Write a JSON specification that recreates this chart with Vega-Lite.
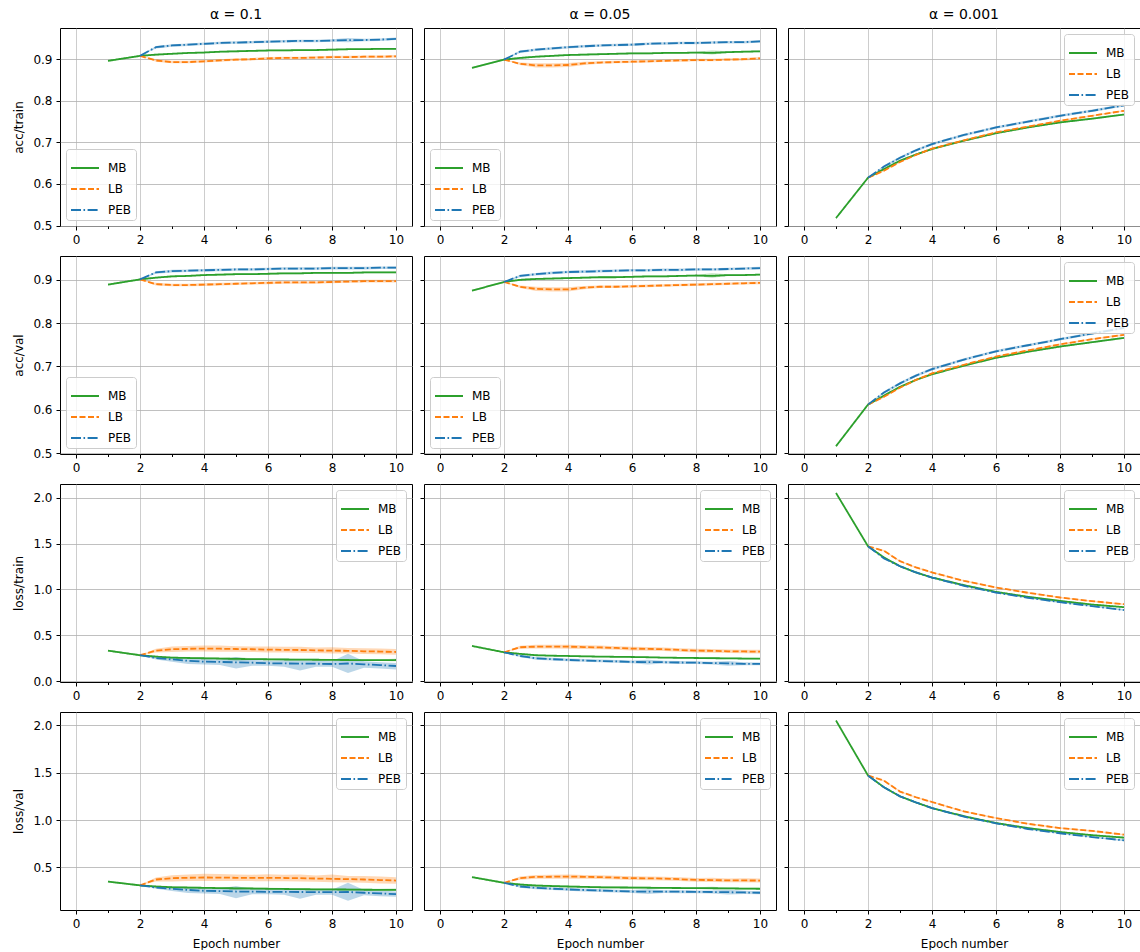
{
"$schema": "https://vega.github.io/schema/vega-lite/v6.json",
"padding": {"left": 12, "top": 7, "right": 0, "bottom": 0},
"background": "white",
"columns": 3,
"spacing": {"row": 30, "column": 12},
"bounds": "flush",
"resolve": {"legend": {"stroke": "independent", "strokeDash": "independent"}},
"config": {
 "font": "DejaVu Sans",
 "view": {"stroke": "#000000", "strokeWidth": 1},
 "axis": {"domain": false, "tickColor": "#000000", "tickSize": 4, "tickWidth": 1, "labelFontSize": 12, "labelColor": "#000000", "labelPadding": 4, "titleFontSize": 12, "titleFontWeight": "normal", "titleColor": "#000000", "gridColor": "#b0b0b0", "gridOpacity": 0.8, "gridWidth": 1, "titlePadding": 7},
 "legend": {"labelFontSize": 12, "labelColor": "#000000", "labelFont": "DejaVu Sans", "symbolType": "stroke", "symbolSize": 784, "symbolStrokeWidth": 1.8, "fillColor": "rgba(255,255,255,0.8)", "strokeColor": "#cccccc", "cornerRadius": 3, "padding": 4, "rowPadding": -8, "labelOffset": 8, "offset": 6},
 "title": {"fontSize": 14, "fontWeight": "normal", "offset": 6, "color": "#000000"}
},
"datasets": {
"at1": [
{"k":"MB","x":1,"y":0.896,"l":0.894,"h":0.898},{"k":"MB","x":2,"y":0.908,"l":0.906,"h":0.910},{"k":"MB","x":2.5,"y":0.911,"l":0.909,"h":0.913},{"k":"MB","x":3,"y":0.913,"l":0.911,"h":0.915},{"k":"MB","x":3.5,"y":0.915,"l":0.913,"h":0.917},{"k":"MB","x":4,"y":0.916,"l":0.914,"h":0.918},{"k":"MB","x":4.5,"y":0.918,"l":0.916,"h":0.920},{"k":"MB","x":5,"y":0.919,"l":0.917,"h":0.921},{"k":"MB","x":5.5,"y":0.920,"l":0.918,"h":0.922},{"k":"MB","x":6,"y":0.921,"l":0.919,"h":0.923},{"k":"MB","x":6.5,"y":0.921,"l":0.919,"h":0.923},{"k":"MB","x":7,"y":0.922,"l":0.920,"h":0.924},{"k":"MB","x":7.5,"y":0.922,"l":0.920,"h":0.924},{"k":"MB","x":8,"y":0.923,"l":0.921,"h":0.925},{"k":"MB","x":8.5,"y":0.924,"l":0.922,"h":0.926},{"k":"MB","x":9,"y":0.924,"l":0.922,"h":0.926},{"k":"MB","x":9.5,"y":0.925,"l":0.923,"h":0.927},{"k":"MB","x":10,"y":0.925,"l":0.923,"h":0.927},
{"k":"LB","x":2,"y":0.908,"l":0.908,"h":0.908},{"k":"LB","x":2.5,"y":0.897,"l":0.894,"h":0.900},{"k":"LB","x":3,"y":0.893,"l":0.890,"h":0.896},{"k":"LB","x":3.5,"y":0.893,"l":0.890,"h":0.896},{"k":"LB","x":4,"y":0.895,"l":0.892,"h":0.898},{"k":"LB","x":4.5,"y":0.897,"l":0.894,"h":0.900},{"k":"LB","x":5,"y":0.899,"l":0.896,"h":0.902},{"k":"LB","x":5.5,"y":0.900,"l":0.897,"h":0.903},{"k":"LB","x":6,"y":0.902,"l":0.899,"h":0.905},{"k":"LB","x":6.5,"y":0.903,"l":0.900,"h":0.906},{"k":"LB","x":7,"y":0.903,"l":0.900,"h":0.906},{"k":"LB","x":7.5,"y":0.904,"l":0.901,"h":0.907},{"k":"LB","x":8,"y":0.905,"l":0.902,"h":0.908},{"k":"LB","x":8.5,"y":0.905,"l":0.902,"h":0.908},{"k":"LB","x":9,"y":0.906,"l":0.903,"h":0.909},{"k":"LB","x":9.5,"y":0.906,"l":0.903,"h":0.909},{"k":"LB","x":10,"y":0.907,"l":0.904,"h":0.910},
{"k":"PEB","x":2,"y":0.908,"l":0.908,"h":0.908},{"k":"PEB","x":2.5,"y":0.929,"l":0.926,"h":0.932},{"k":"PEB","x":3,"y":0.933,"l":0.930,"h":0.936},{"k":"PEB","x":3.5,"y":0.935,"l":0.932,"h":0.938},{"k":"PEB","x":4,"y":0.937,"l":0.934,"h":0.940},{"k":"PEB","x":4.5,"y":0.939,"l":0.936,"h":0.942},{"k":"PEB","x":5,"y":0.940,"l":0.937,"h":0.943},{"k":"PEB","x":5.5,"y":0.941,"l":0.938,"h":0.944},{"k":"PEB","x":6,"y":0.942,"l":0.939,"h":0.945},{"k":"PEB","x":6.5,"y":0.943,"l":0.940,"h":0.946},{"k":"PEB","x":7,"y":0.944,"l":0.941,"h":0.947},{"k":"PEB","x":7.5,"y":0.944,"l":0.941,"h":0.947},{"k":"PEB","x":8,"y":0.945,"l":0.942,"h":0.948},{"k":"PEB","x":8.5,"y":0.946,"l":0.941,"h":0.951},{"k":"PEB","x":9,"y":0.946,"l":0.943,"h":0.949},{"k":"PEB","x":9.5,"y":0.947,"l":0.944,"h":0.950},{"k":"PEB","x":10,"y":0.949,"l":0.946,"h":0.952}
],
"at05": [
{"k":"MB","x":1,"y":0.879,"l":0.877,"h":0.881},{"k":"MB","x":2,"y":0.899,"l":0.897,"h":0.901},{"k":"MB","x":2.5,"y":0.903,"l":0.901,"h":0.905},{"k":"MB","x":3,"y":0.906,"l":0.904,"h":0.908},{"k":"MB","x":3.5,"y":0.908,"l":0.906,"h":0.910},{"k":"MB","x":4,"y":0.910,"l":0.908,"h":0.912},{"k":"MB","x":4.5,"y":0.911,"l":0.909,"h":0.913},{"k":"MB","x":5,"y":0.912,"l":0.910,"h":0.914},{"k":"MB","x":5.5,"y":0.913,"l":0.911,"h":0.915},{"k":"MB","x":6,"y":0.914,"l":0.912,"h":0.916},{"k":"MB","x":6.5,"y":0.914,"l":0.912,"h":0.916},{"k":"MB","x":7,"y":0.915,"l":0.913,"h":0.917},{"k":"MB","x":7.5,"y":0.915,"l":0.913,"h":0.917},{"k":"MB","x":8,"y":0.916,"l":0.914,"h":0.918},{"k":"MB","x":8.5,"y":0.915,"l":0.911,"h":0.921},{"k":"MB","x":9,"y":0.917,"l":0.915,"h":0.919},{"k":"MB","x":9.5,"y":0.918,"l":0.916,"h":0.920},{"k":"MB","x":10,"y":0.919,"l":0.917,"h":0.921},
{"k":"LB","x":2,"y":0.899,"l":0.899,"h":0.899},{"k":"LB","x":2.5,"y":0.889,"l":0.886,"h":0.892},{"k":"LB","x":3,"y":0.885,"l":0.880,"h":0.890},{"k":"LB","x":3.5,"y":0.885,"l":0.880,"h":0.890},{"k":"LB","x":4,"y":0.886,"l":0.881,"h":0.891},{"k":"LB","x":4.5,"y":0.890,"l":0.886,"h":0.894},{"k":"LB","x":5,"y":0.892,"l":0.889,"h":0.895},{"k":"LB","x":5.5,"y":0.893,"l":0.890,"h":0.896},{"k":"LB","x":6,"y":0.894,"l":0.891,"h":0.897},{"k":"LB","x":6.5,"y":0.895,"l":0.892,"h":0.898},{"k":"LB","x":7,"y":0.896,"l":0.893,"h":0.899},{"k":"LB","x":7.5,"y":0.897,"l":0.894,"h":0.900},{"k":"LB","x":8,"y":0.898,"l":0.895,"h":0.901},{"k":"LB","x":8.5,"y":0.898,"l":0.895,"h":0.901},{"k":"LB","x":9,"y":0.899,"l":0.896,"h":0.902},{"k":"LB","x":9.5,"y":0.900,"l":0.897,"h":0.903},{"k":"LB","x":10,"y":0.902,"l":0.899,"h":0.905},
{"k":"PEB","x":2,"y":0.899,"l":0.899,"h":0.899},{"k":"PEB","x":2.5,"y":0.918,"l":0.915,"h":0.921},{"k":"PEB","x":3,"y":0.923,"l":0.920,"h":0.926},{"k":"PEB","x":3.5,"y":0.926,"l":0.923,"h":0.929},{"k":"PEB","x":4,"y":0.929,"l":0.926,"h":0.932},{"k":"PEB","x":4.5,"y":0.931,"l":0.928,"h":0.934},{"k":"PEB","x":5,"y":0.933,"l":0.930,"h":0.936},{"k":"PEB","x":5.5,"y":0.934,"l":0.931,"h":0.937},{"k":"PEB","x":6,"y":0.935,"l":0.932,"h":0.938},{"k":"PEB","x":6.5,"y":0.937,"l":0.934,"h":0.940},{"k":"PEB","x":7,"y":0.938,"l":0.935,"h":0.941},{"k":"PEB","x":7.5,"y":0.939,"l":0.936,"h":0.942},{"k":"PEB","x":8,"y":0.939,"l":0.936,"h":0.942},{"k":"PEB","x":8.5,"y":0.940,"l":0.937,"h":0.943},{"k":"PEB","x":9,"y":0.941,"l":0.938,"h":0.944},{"k":"PEB","x":9.5,"y":0.941,"l":0.938,"h":0.944},{"k":"PEB","x":10,"y":0.943,"l":0.940,"h":0.946}
],
"at001": [
{"k":"MB","x":1,"y":0.518,"l":0.516,"h":0.520},{"k":"MB","x":2,"y":0.615,"l":0.613,"h":0.617},{"k":"MB","x":2.5,"y":0.636,"l":0.634,"h":0.638},{"k":"MB","x":3,"y":0.656,"l":0.654,"h":0.658},{"k":"MB","x":3.5,"y":0.671,"l":0.669,"h":0.673},{"k":"MB","x":4,"y":0.684,"l":0.682,"h":0.686},{"k":"MB","x":5,"y":0.704,"l":0.702,"h":0.706},{"k":"MB","x":6,"y":0.722,"l":0.720,"h":0.724},{"k":"MB","x":7,"y":0.736,"l":0.734,"h":0.738},{"k":"MB","x":8,"y":0.748,"l":0.746,"h":0.750},{"k":"MB","x":9,"y":0.757,"l":0.755,"h":0.759},{"k":"MB","x":10,"y":0.767,"l":0.765,"h":0.769},
{"k":"LB","x":2,"y":0.615,"l":0.615,"h":0.615},{"k":"LB","x":2.5,"y":0.632,"l":0.630,"h":0.634},{"k":"LB","x":3,"y":0.653,"l":0.651,"h":0.655},{"k":"LB","x":3.5,"y":0.670,"l":0.668,"h":0.672},{"k":"LB","x":4,"y":0.685,"l":0.683,"h":0.687},{"k":"LB","x":5,"y":0.705,"l":0.703,"h":0.707},{"k":"LB","x":6,"y":0.724,"l":0.722,"h":0.726},{"k":"LB","x":7,"y":0.738,"l":0.736,"h":0.740},{"k":"LB","x":8,"y":0.752,"l":0.750,"h":0.754},{"k":"LB","x":9,"y":0.764,"l":0.762,"h":0.766},{"k":"LB","x":10,"y":0.776,"l":0.774,"h":0.778},
{"k":"PEB","x":2,"y":0.615,"l":0.615,"h":0.615},{"k":"PEB","x":2.5,"y":0.642,"l":0.639,"h":0.645},{"k":"PEB","x":3,"y":0.663,"l":0.660,"h":0.666},{"k":"PEB","x":3.5,"y":0.681,"l":0.678,"h":0.684},{"k":"PEB","x":4,"y":0.696,"l":0.693,"h":0.699},{"k":"PEB","x":5,"y":0.718,"l":0.715,"h":0.721},{"k":"PEB","x":6,"y":0.736,"l":0.733,"h":0.739},{"k":"PEB","x":7,"y":0.750,"l":0.747,"h":0.753},{"k":"PEB","x":8,"y":0.764,"l":0.761,"h":0.767},{"k":"PEB","x":9,"y":0.776,"l":0.773,"h":0.779},{"k":"PEB","x":10,"y":0.789,"l":0.786,"h":0.792}
],
"av1": [
{"k":"MB","x":1,"y":0.889,"l":0.887,"h":0.891},{"k":"MB","x":2,"y":0.901,"l":0.899,"h":0.903},{"k":"MB","x":2.5,"y":0.905,"l":0.903,"h":0.907},{"k":"MB","x":3,"y":0.908,"l":0.906,"h":0.910},{"k":"MB","x":3.5,"y":0.909,"l":0.907,"h":0.911},{"k":"MB","x":4,"y":0.911,"l":0.909,"h":0.913},{"k":"MB","x":4.5,"y":0.912,"l":0.910,"h":0.914},{"k":"MB","x":5,"y":0.913,"l":0.911,"h":0.915},{"k":"MB","x":5.5,"y":0.913,"l":0.911,"h":0.915},{"k":"MB","x":6,"y":0.914,"l":0.912,"h":0.916},{"k":"MB","x":6.5,"y":0.915,"l":0.913,"h":0.917},{"k":"MB","x":7,"y":0.915,"l":0.913,"h":0.917},{"k":"MB","x":7.5,"y":0.916,"l":0.914,"h":0.918},{"k":"MB","x":8,"y":0.916,"l":0.914,"h":0.918},{"k":"MB","x":8.5,"y":0.916,"l":0.914,"h":0.918},{"k":"MB","x":9,"y":0.917,"l":0.915,"h":0.919},{"k":"MB","x":9.5,"y":0.917,"l":0.915,"h":0.919},{"k":"MB","x":10,"y":0.917,"l":0.915,"h":0.919},
{"k":"LB","x":2,"y":0.901,"l":0.901,"h":0.901},{"k":"LB","x":2.5,"y":0.890,"l":0.887,"h":0.893},{"k":"LB","x":3,"y":0.888,"l":0.885,"h":0.891},{"k":"LB","x":3.5,"y":0.888,"l":0.885,"h":0.891},{"k":"LB","x":4,"y":0.889,"l":0.886,"h":0.892},{"k":"LB","x":4.5,"y":0.890,"l":0.887,"h":0.893},{"k":"LB","x":5,"y":0.891,"l":0.888,"h":0.894},{"k":"LB","x":5.5,"y":0.892,"l":0.889,"h":0.895},{"k":"LB","x":6,"y":0.893,"l":0.890,"h":0.896},{"k":"LB","x":6.5,"y":0.894,"l":0.891,"h":0.897},{"k":"LB","x":7,"y":0.894,"l":0.891,"h":0.897},{"k":"LB","x":7.5,"y":0.894,"l":0.891,"h":0.897},{"k":"LB","x":8,"y":0.895,"l":0.892,"h":0.898},{"k":"LB","x":8.5,"y":0.896,"l":0.893,"h":0.899},{"k":"LB","x":9,"y":0.897,"l":0.894,"h":0.900},{"k":"LB","x":9.5,"y":0.897,"l":0.894,"h":0.900},{"k":"LB","x":10,"y":0.897,"l":0.894,"h":0.900},
{"k":"PEB","x":2,"y":0.901,"l":0.901,"h":0.901},{"k":"PEB","x":2.5,"y":0.917,"l":0.914,"h":0.920},{"k":"PEB","x":3,"y":0.920,"l":0.917,"h":0.923},{"k":"PEB","x":3.5,"y":0.921,"l":0.918,"h":0.924},{"k":"PEB","x":4,"y":0.922,"l":0.919,"h":0.925},{"k":"PEB","x":4.5,"y":0.923,"l":0.920,"h":0.926},{"k":"PEB","x":5,"y":0.924,"l":0.921,"h":0.927},{"k":"PEB","x":5.5,"y":0.924,"l":0.921,"h":0.927},{"k":"PEB","x":6,"y":0.925,"l":0.922,"h":0.928},{"k":"PEB","x":6.5,"y":0.926,"l":0.923,"h":0.929},{"k":"PEB","x":7,"y":0.926,"l":0.923,"h":0.929},{"k":"PEB","x":7.5,"y":0.926,"l":0.923,"h":0.929},{"k":"PEB","x":8,"y":0.927,"l":0.924,"h":0.930},{"k":"PEB","x":8.5,"y":0.927,"l":0.924,"h":0.930},{"k":"PEB","x":9,"y":0.927,"l":0.924,"h":0.930},{"k":"PEB","x":9.5,"y":0.928,"l":0.925,"h":0.931},{"k":"PEB","x":10,"y":0.928,"l":0.925,"h":0.931}
],
"av05": [
{"k":"MB","x":1,"y":0.875,"l":0.873,"h":0.877},{"k":"MB","x":2,"y":0.895,"l":0.893,"h":0.897},{"k":"MB","x":2.5,"y":0.900,"l":0.898,"h":0.902},{"k":"MB","x":3,"y":0.902,"l":0.900,"h":0.904},{"k":"MB","x":3.5,"y":0.903,"l":0.901,"h":0.905},{"k":"MB","x":4,"y":0.904,"l":0.902,"h":0.906},{"k":"MB","x":4.5,"y":0.905,"l":0.903,"h":0.907},{"k":"MB","x":5,"y":0.906,"l":0.904,"h":0.908},{"k":"MB","x":5.5,"y":0.906,"l":0.904,"h":0.908},{"k":"MB","x":6,"y":0.907,"l":0.905,"h":0.909},{"k":"MB","x":6.5,"y":0.908,"l":0.906,"h":0.910},{"k":"MB","x":7,"y":0.908,"l":0.906,"h":0.910},{"k":"MB","x":7.5,"y":0.909,"l":0.907,"h":0.911},{"k":"MB","x":8,"y":0.910,"l":0.908,"h":0.912},{"k":"MB","x":8.5,"y":0.909,"l":0.905,"h":0.915},{"k":"MB","x":9,"y":0.911,"l":0.909,"h":0.913},{"k":"MB","x":9.5,"y":0.911,"l":0.909,"h":0.913},{"k":"MB","x":10,"y":0.912,"l":0.910,"h":0.914},
{"k":"LB","x":2,"y":0.895,"l":0.895,"h":0.895},{"k":"LB","x":2.5,"y":0.884,"l":0.881,"h":0.887},{"k":"LB","x":3,"y":0.879,"l":0.874,"h":0.884},{"k":"LB","x":3.5,"y":0.878,"l":0.873,"h":0.883},{"k":"LB","x":4,"y":0.878,"l":0.873,"h":0.883},{"k":"LB","x":4.5,"y":0.882,"l":0.878,"h":0.886},{"k":"LB","x":5,"y":0.884,"l":0.881,"h":0.887},{"k":"LB","x":5.5,"y":0.884,"l":0.881,"h":0.887},{"k":"LB","x":6,"y":0.885,"l":0.882,"h":0.888},{"k":"LB","x":6.5,"y":0.886,"l":0.883,"h":0.889},{"k":"LB","x":7,"y":0.887,"l":0.884,"h":0.890},{"k":"LB","x":7.5,"y":0.888,"l":0.885,"h":0.891},{"k":"LB","x":8,"y":0.889,"l":0.886,"h":0.892},{"k":"LB","x":8.5,"y":0.890,"l":0.887,"h":0.893},{"k":"LB","x":9,"y":0.891,"l":0.888,"h":0.894},{"k":"LB","x":9.5,"y":0.892,"l":0.889,"h":0.895},{"k":"LB","x":10,"y":0.893,"l":0.890,"h":0.896},
{"k":"PEB","x":2,"y":0.895,"l":0.895,"h":0.895},{"k":"PEB","x":2.5,"y":0.909,"l":0.906,"h":0.912},{"k":"PEB","x":3,"y":0.913,"l":0.910,"h":0.916},{"k":"PEB","x":3.5,"y":0.916,"l":0.913,"h":0.919},{"k":"PEB","x":4,"y":0.918,"l":0.915,"h":0.921},{"k":"PEB","x":4.5,"y":0.919,"l":0.916,"h":0.922},{"k":"PEB","x":5,"y":0.920,"l":0.917,"h":0.923},{"k":"PEB","x":5.5,"y":0.921,"l":0.918,"h":0.924},{"k":"PEB","x":6,"y":0.922,"l":0.919,"h":0.925},{"k":"PEB","x":6.5,"y":0.922,"l":0.919,"h":0.925},{"k":"PEB","x":7,"y":0.923,"l":0.920,"h":0.926},{"k":"PEB","x":7.5,"y":0.923,"l":0.920,"h":0.926},{"k":"PEB","x":8,"y":0.924,"l":0.921,"h":0.927},{"k":"PEB","x":8.5,"y":0.924,"l":0.921,"h":0.927},{"k":"PEB","x":9,"y":0.925,"l":0.922,"h":0.928},{"k":"PEB","x":9.5,"y":0.926,"l":0.923,"h":0.929},{"k":"PEB","x":10,"y":0.927,"l":0.924,"h":0.930}
],
"av001": [
{"k":"MB","x":1,"y":0.516,"l":0.514,"h":0.518},{"k":"MB","x":2,"y":0.612,"l":0.610,"h":0.614},{"k":"MB","x":2.5,"y":0.633,"l":0.631,"h":0.635},{"k":"MB","x":3,"y":0.653,"l":0.651,"h":0.655},{"k":"MB","x":3.5,"y":0.669,"l":0.667,"h":0.671},{"k":"MB","x":4,"y":0.682,"l":0.680,"h":0.684},{"k":"MB","x":5,"y":0.702,"l":0.700,"h":0.704},{"k":"MB","x":6,"y":0.720,"l":0.718,"h":0.722},{"k":"MB","x":7,"y":0.734,"l":0.732,"h":0.736},{"k":"MB","x":8,"y":0.746,"l":0.744,"h":0.748},{"k":"MB","x":9,"y":0.756,"l":0.754,"h":0.758},{"k":"MB","x":10,"y":0.766,"l":0.764,"h":0.768},
{"k":"LB","x":2,"y":0.612,"l":0.612,"h":0.612},{"k":"LB","x":2.5,"y":0.630,"l":0.628,"h":0.632},{"k":"LB","x":3,"y":0.651,"l":0.649,"h":0.653},{"k":"LB","x":3.5,"y":0.669,"l":0.667,"h":0.671},{"k":"LB","x":4,"y":0.684,"l":0.682,"h":0.686},{"k":"LB","x":5,"y":0.704,"l":0.702,"h":0.706},{"k":"LB","x":6,"y":0.723,"l":0.721,"h":0.725},{"k":"LB","x":7,"y":0.737,"l":0.735,"h":0.739},{"k":"LB","x":8,"y":0.751,"l":0.749,"h":0.753},{"k":"LB","x":9,"y":0.763,"l":0.761,"h":0.765},{"k":"LB","x":10,"y":0.773,"l":0.771,"h":0.775},
{"k":"PEB","x":2,"y":0.612,"l":0.612,"h":0.612},{"k":"PEB","x":2.5,"y":0.640,"l":0.637,"h":0.643},{"k":"PEB","x":3,"y":0.661,"l":0.658,"h":0.664},{"k":"PEB","x":3.5,"y":0.679,"l":0.676,"h":0.682},{"k":"PEB","x":4,"y":0.694,"l":0.691,"h":0.697},{"k":"PEB","x":5,"y":0.716,"l":0.713,"h":0.719},{"k":"PEB","x":6,"y":0.735,"l":0.732,"h":0.738},{"k":"PEB","x":7,"y":0.749,"l":0.746,"h":0.752},{"k":"PEB","x":8,"y":0.763,"l":0.760,"h":0.766},{"k":"PEB","x":9,"y":0.776,"l":0.773,"h":0.779},{"k":"PEB","x":10,"y":0.789,"l":0.786,"h":0.792}
],
"lt1": [
{"k":"MB","x":1,"y":0.335,"l":0.325,"h":0.345},{"k":"MB","x":2,"y":0.285,"l":0.275,"h":0.295},{"k":"MB","x":2.5,"y":0.270,"l":0.260,"h":0.280},{"k":"MB","x":3,"y":0.259,"l":0.249,"h":0.269},{"k":"MB","x":3.5,"y":0.255,"l":0.245,"h":0.265},{"k":"MB","x":4,"y":0.252,"l":0.242,"h":0.262},{"k":"MB","x":4.5,"y":0.249,"l":0.239,"h":0.259},{"k":"MB","x":5,"y":0.245,"l":0.225,"h":0.262},{"k":"MB","x":5.5,"y":0.243,"l":0.233,"h":0.253},{"k":"MB","x":6,"y":0.241,"l":0.231,"h":0.251},{"k":"MB","x":6.5,"y":0.239,"l":0.229,"h":0.249},{"k":"MB","x":7,"y":0.237,"l":0.227,"h":0.247},{"k":"MB","x":7.5,"y":0.236,"l":0.226,"h":0.246},{"k":"MB","x":8,"y":0.234,"l":0.224,"h":0.244},{"k":"MB","x":8.5,"y":0.233,"l":0.223,"h":0.243},{"k":"MB","x":9,"y":0.232,"l":0.222,"h":0.242},{"k":"MB","x":9.5,"y":0.232,"l":0.222,"h":0.242},{"k":"MB","x":10,"y":0.233,"l":0.220,"h":0.246},
{"k":"LB","x":2,"y":0.285,"l":0.285,"h":0.285},{"k":"LB","x":2.5,"y":0.335,"l":0.315,"h":0.355},{"k":"LB","x":3,"y":0.350,"l":0.320,"h":0.380},{"k":"LB","x":3.5,"y":0.355,"l":0.325,"h":0.385},{"k":"LB","x":4,"y":0.357,"l":0.325,"h":0.392},{"k":"LB","x":4.5,"y":0.356,"l":0.324,"h":0.390},{"k":"LB","x":5,"y":0.353,"l":0.322,"h":0.384},{"k":"LB","x":5.5,"y":0.350,"l":0.320,"h":0.380},{"k":"LB","x":6,"y":0.346,"l":0.316,"h":0.380},{"k":"LB","x":6.5,"y":0.344,"l":0.314,"h":0.376},{"k":"LB","x":7,"y":0.342,"l":0.312,"h":0.376},{"k":"LB","x":7.5,"y":0.338,"l":0.308,"h":0.368},{"k":"LB","x":8,"y":0.335,"l":0.305,"h":0.372},{"k":"LB","x":8.5,"y":0.333,"l":0.303,"h":0.365},{"k":"LB","x":9,"y":0.328,"l":0.298,"h":0.360},{"k":"LB","x":9.5,"y":0.325,"l":0.295,"h":0.358},{"k":"LB","x":10,"y":0.320,"l":0.290,"h":0.352},
{"k":"PEB","x":2,"y":0.285,"l":0.285,"h":0.285},{"k":"PEB","x":2.5,"y":0.255,"l":0.240,"h":0.270},{"k":"PEB","x":3,"y":0.240,"l":0.215,"h":0.260},{"k":"PEB","x":3.5,"y":0.225,"l":0.190,"h":0.250},{"k":"PEB","x":4,"y":0.215,"l":0.185,"h":0.245},{"k":"PEB","x":4.5,"y":0.212,"l":0.180,"h":0.240},{"k":"PEB","x":5,"y":0.208,"l":0.140,"h":0.265},{"k":"PEB","x":5.5,"y":0.204,"l":0.170,"h":0.235},{"k":"PEB","x":6,"y":0.198,"l":0.170,"h":0.225},{"k":"PEB","x":6.5,"y":0.196,"l":0.160,"h":0.230},{"k":"PEB","x":7,"y":0.194,"l":0.120,"h":0.230},{"k":"PEB","x":7.5,"y":0.193,"l":0.160,"h":0.225},{"k":"PEB","x":8,"y":0.190,"l":0.160,"h":0.220},{"k":"PEB","x":8.5,"y":0.195,"l":0.092,"h":0.300},{"k":"PEB","x":9,"y":0.186,"l":0.150,"h":0.220},{"k":"PEB","x":9.5,"y":0.178,"l":0.140,"h":0.210},{"k":"PEB","x":10,"y":0.168,"l":0.130,"h":0.200}
],
"lt05": [
{"k":"MB","x":1,"y":0.386,"l":0.378,"h":0.394},{"k":"MB","x":2,"y":0.317,"l":0.309,"h":0.325},{"k":"MB","x":2.5,"y":0.300,"l":0.292,"h":0.308},{"k":"MB","x":3,"y":0.285,"l":0.277,"h":0.293},{"k":"MB","x":3.5,"y":0.280,"l":0.272,"h":0.288},{"k":"MB","x":4,"y":0.277,"l":0.269,"h":0.285},{"k":"MB","x":4.5,"y":0.273,"l":0.265,"h":0.281},{"k":"MB","x":5,"y":0.270,"l":0.262,"h":0.278},{"k":"MB","x":5.5,"y":0.268,"l":0.260,"h":0.276},{"k":"MB","x":6,"y":0.266,"l":0.258,"h":0.274},{"k":"MB","x":6.5,"y":0.263,"l":0.255,"h":0.271},{"k":"MB","x":7,"y":0.259,"l":0.251,"h":0.267},{"k":"MB","x":7.5,"y":0.257,"l":0.249,"h":0.265},{"k":"MB","x":8,"y":0.255,"l":0.247,"h":0.263},{"k":"MB","x":8.5,"y":0.253,"l":0.242,"h":0.266},{"k":"MB","x":9,"y":0.251,"l":0.243,"h":0.259},{"k":"MB","x":9.5,"y":0.249,"l":0.241,"h":0.257},{"k":"MB","x":10,"y":0.248,"l":0.240,"h":0.256},
{"k":"LB","x":2,"y":0.317,"l":0.317,"h":0.317},{"k":"LB","x":2.5,"y":0.372,"l":0.355,"h":0.389},{"k":"LB","x":3,"y":0.378,"l":0.358,"h":0.398},{"k":"LB","x":3.5,"y":0.378,"l":0.358,"h":0.398},{"k":"LB","x":4,"y":0.378,"l":0.356,"h":0.400},{"k":"LB","x":4.5,"y":0.374,"l":0.354,"h":0.394},{"k":"LB","x":5,"y":0.370,"l":0.350,"h":0.390},{"k":"LB","x":5.5,"y":0.364,"l":0.344,"h":0.384},{"k":"LB","x":6,"y":0.357,"l":0.337,"h":0.377},{"k":"LB","x":6.5,"y":0.354,"l":0.334,"h":0.374},{"k":"LB","x":7,"y":0.350,"l":0.330,"h":0.370},{"k":"LB","x":7.5,"y":0.342,"l":0.322,"h":0.362},{"k":"LB","x":8,"y":0.335,"l":0.315,"h":0.355},{"k":"LB","x":8.5,"y":0.333,"l":0.313,"h":0.353},{"k":"LB","x":9,"y":0.328,"l":0.308,"h":0.348},{"k":"LB","x":9.5,"y":0.326,"l":0.306,"h":0.346},{"k":"LB","x":10,"y":0.324,"l":0.304,"h":0.344},
{"k":"PEB","x":2,"y":0.317,"l":0.317,"h":0.317},{"k":"PEB","x":2.5,"y":0.277,"l":0.265,"h":0.289},{"k":"PEB","x":3,"y":0.252,"l":0.237,"h":0.267},{"k":"PEB","x":3.5,"y":0.242,"l":0.227,"h":0.257},{"k":"PEB","x":4,"y":0.234,"l":0.219,"h":0.249},{"k":"PEB","x":4.5,"y":0.228,"l":0.213,"h":0.243},{"k":"PEB","x":5,"y":0.223,"l":0.208,"h":0.238},{"k":"PEB","x":5.5,"y":0.218,"l":0.203,"h":0.233},{"k":"PEB","x":6,"y":0.212,"l":0.197,"h":0.227},{"k":"PEB","x":6.5,"y":0.210,"l":0.185,"h":0.235},{"k":"PEB","x":7,"y":0.209,"l":0.194,"h":0.224},{"k":"PEB","x":7.5,"y":0.206,"l":0.191,"h":0.221},{"k":"PEB","x":8,"y":0.204,"l":0.189,"h":0.219},{"k":"PEB","x":8.5,"y":0.200,"l":0.185,"h":0.215},{"k":"PEB","x":9,"y":0.196,"l":0.171,"h":0.221},{"k":"PEB","x":9.5,"y":0.192,"l":0.175,"h":0.209},{"k":"PEB","x":10,"y":0.190,"l":0.175,"h":0.205}
],
"lt001": [
{"k":"MB","x":1,"y":2.05,"l":2.042,"h":2.058},{"k":"MB","x":2,"y":1.47,"l":1.462,"h":1.478},{"k":"MB","x":2.5,"y":1.348,"l":1.340,"h":1.356},{"k":"MB","x":3,"y":1.253,"l":1.245,"h":1.261},{"k":"MB","x":3.5,"y":1.185,"l":1.177,"h":1.193},{"k":"MB","x":4,"y":1.13,"l":1.122,"h":1.138},{"k":"MB","x":5,"y":1.047,"l":1.039,"h":1.055},{"k":"MB","x":6,"y":0.974,"l":0.966,"h":0.982},{"k":"MB","x":7,"y":0.92,"l":0.912,"h":0.928},{"k":"MB","x":8,"y":0.876,"l":0.868,"h":0.884},{"k":"MB","x":9,"y":0.836,"l":0.828,"h":0.844},{"k":"MB","x":10,"y":0.808,"l":0.800,"h":0.816},
{"k":"LB","x":2,"y":1.47,"l":1.47,"h":1.47},{"k":"LB","x":2.5,"y":1.42,"l":1.412,"h":1.428},{"k":"LB","x":3,"y":1.308,"l":1.300,"h":1.316},{"k":"LB","x":3.5,"y":1.24,"l":1.232,"h":1.248},{"k":"LB","x":4,"y":1.185,"l":1.177,"h":1.193},{"k":"LB","x":5,"y":1.094,"l":1.086,"h":1.102},{"k":"LB","x":6,"y":1.022,"l":1.014,"h":1.030},{"k":"LB","x":7,"y":0.964,"l":0.956,"h":0.972},{"k":"LB","x":8,"y":0.913,"l":0.905,"h":0.921},{"k":"LB","x":9,"y":0.873,"l":0.865,"h":0.881},{"k":"LB","x":10,"y":0.84,"l":0.832,"h":0.848},
{"k":"PEB","x":2,"y":1.47,"l":1.47,"h":1.47},{"k":"PEB","x":2.5,"y":1.337,"l":1.329,"h":1.345},{"k":"PEB","x":3,"y":1.253,"l":1.245,"h":1.261},{"k":"PEB","x":3.5,"y":1.185,"l":1.177,"h":1.193},{"k":"PEB","x":4,"y":1.13,"l":1.122,"h":1.138},{"k":"PEB","x":5,"y":1.04,"l":1.032,"h":1.048},{"k":"PEB","x":6,"y":0.967,"l":0.959,"h":0.975},{"k":"PEB","x":7,"y":0.91,"l":0.902,"h":0.918},{"k":"PEB","x":8,"y":0.862,"l":0.854,"h":0.870},{"k":"PEB","x":9,"y":0.82,"l":0.812,"h":0.828},{"k":"PEB","x":10,"y":0.776,"l":0.768,"h":0.784}
],
"lv1": [
{"k":"MB","x":1,"y":0.350,"l":0.340,"h":0.360},{"k":"MB","x":2,"y":0.310,"l":0.300,"h":0.320},{"k":"MB","x":2.5,"y":0.298,"l":0.288,"h":0.308},{"k":"MB","x":3,"y":0.290,"l":0.280,"h":0.300},{"k":"MB","x":3.5,"y":0.287,"l":0.277,"h":0.297},{"k":"MB","x":4,"y":0.284,"l":0.274,"h":0.294},{"k":"MB","x":4.5,"y":0.281,"l":0.271,"h":0.291},{"k":"MB","x":5,"y":0.279,"l":0.262,"h":0.296},{"k":"MB","x":5.5,"y":0.277,"l":0.267,"h":0.287},{"k":"MB","x":6,"y":0.274,"l":0.264,"h":0.284},{"k":"MB","x":6.5,"y":0.272,"l":0.262,"h":0.282},{"k":"MB","x":7,"y":0.270,"l":0.260,"h":0.280},{"k":"MB","x":7.5,"y":0.268,"l":0.258,"h":0.278},{"k":"MB","x":8,"y":0.267,"l":0.257,"h":0.277},{"k":"MB","x":8.5,"y":0.266,"l":0.256,"h":0.276},{"k":"MB","x":9,"y":0.264,"l":0.254,"h":0.274},{"k":"MB","x":9.5,"y":0.263,"l":0.253,"h":0.273},{"k":"MB","x":10,"y":0.263,"l":0.250,"h":0.276},
{"k":"LB","x":2,"y":0.310,"l":0.310,"h":0.310},{"k":"LB","x":2.5,"y":0.372,"l":0.350,"h":0.394},{"k":"LB","x":3,"y":0.386,"l":0.352,"h":0.418},{"k":"LB","x":3.5,"y":0.390,"l":0.356,"h":0.424},{"k":"LB","x":4,"y":0.393,"l":0.357,"h":0.432},{"k":"LB","x":4.5,"y":0.392,"l":0.356,"h":0.430},{"k":"LB","x":5,"y":0.390,"l":0.355,"h":0.425},{"k":"LB","x":5.5,"y":0.390,"l":0.355,"h":0.422},{"k":"LB","x":6,"y":0.390,"l":0.353,"h":0.428},{"k":"LB","x":6.5,"y":0.388,"l":0.353,"h":0.423},{"k":"LB","x":7,"y":0.386,"l":0.351,"h":0.425},{"k":"LB","x":7.5,"y":0.382,"l":0.347,"h":0.414},{"k":"LB","x":8,"y":0.379,"l":0.344,"h":0.424},{"k":"LB","x":8.5,"y":0.376,"l":0.341,"h":0.410},{"k":"LB","x":9,"y":0.372,"l":0.337,"h":0.410},{"k":"LB","x":9.5,"y":0.366,"l":0.331,"h":0.404},{"k":"LB","x":10,"y":0.361,"l":0.326,"h":0.396},
{"k":"PEB","x":2,"y":0.310,"l":0.310,"h":0.310},{"k":"PEB","x":2.5,"y":0.287,"l":0.275,"h":0.300},{"k":"PEB","x":3,"y":0.274,"l":0.250,"h":0.295},{"k":"PEB","x":3.5,"y":0.262,"l":0.230,"h":0.290},{"k":"PEB","x":4,"y":0.253,"l":0.225,"h":0.280},{"k":"PEB","x":4.5,"y":0.250,"l":0.220,"h":0.280},{"k":"PEB","x":5,"y":0.245,"l":0.175,"h":0.300},{"k":"PEB","x":5.5,"y":0.244,"l":0.215,"h":0.275},{"k":"PEB","x":6,"y":0.242,"l":0.215,"h":0.270},{"k":"PEB","x":6.5,"y":0.241,"l":0.210,"h":0.270},{"k":"PEB","x":7,"y":0.240,"l":0.170,"h":0.270},{"k":"PEB","x":7.5,"y":0.239,"l":0.210,"h":0.265},{"k":"PEB","x":8,"y":0.238,"l":0.210,"h":0.265},{"k":"PEB","x":8.5,"y":0.240,"l":0.147,"h":0.337},{"k":"PEB","x":9,"y":0.232,"l":0.205,"h":0.260},{"k":"PEB","x":9.5,"y":0.225,"l":0.195,"h":0.255},{"k":"PEB","x":10,"y":0.218,"l":0.190,"h":0.245}
],
"lv05": [
{"k":"MB","x":1,"y":0.397,"l":0.387,"h":0.407},{"k":"MB","x":2,"y":0.337,"l":0.327,"h":0.347},{"k":"MB","x":2.5,"y":0.319,"l":0.309,"h":0.329},{"k":"MB","x":3,"y":0.308,"l":0.298,"h":0.318},{"k":"MB","x":3.5,"y":0.303,"l":0.293,"h":0.313},{"k":"MB","x":4,"y":0.298,"l":0.288,"h":0.308},{"k":"MB","x":4.5,"y":0.294,"l":0.284,"h":0.304},{"k":"MB","x":5,"y":0.290,"l":0.280,"h":0.300},{"k":"MB","x":5.5,"y":0.288,"l":0.278,"h":0.298},{"k":"MB","x":6,"y":0.287,"l":0.277,"h":0.297},{"k":"MB","x":6.5,"y":0.285,"l":0.275,"h":0.295},{"k":"MB","x":7,"y":0.283,"l":0.273,"h":0.293},{"k":"MB","x":7.5,"y":0.282,"l":0.272,"h":0.292},{"k":"MB","x":8,"y":0.281,"l":0.271,"h":0.291},{"k":"MB","x":8.5,"y":0.280,"l":0.266,"h":0.296},{"k":"MB","x":9,"y":0.278,"l":0.268,"h":0.288},{"k":"MB","x":9.5,"y":0.276,"l":0.266,"h":0.286},{"k":"MB","x":10,"y":0.274,"l":0.264,"h":0.284},
{"k":"LB","x":2,"y":0.337,"l":0.337,"h":0.337},{"k":"LB","x":2.5,"y":0.386,"l":0.369,"h":0.403},{"k":"LB","x":3,"y":0.400,"l":0.380,"h":0.420},{"k":"LB","x":3.5,"y":0.401,"l":0.381,"h":0.421},{"k":"LB","x":4,"y":0.403,"l":0.381,"h":0.425},{"k":"LB","x":4.5,"y":0.400,"l":0.380,"h":0.420},{"k":"LB","x":5,"y":0.397,"l":0.377,"h":0.417},{"k":"LB","x":5.5,"y":0.392,"l":0.372,"h":0.412},{"k":"LB","x":6,"y":0.386,"l":0.366,"h":0.406},{"k":"LB","x":6.5,"y":0.384,"l":0.364,"h":0.404},{"k":"LB","x":7,"y":0.382,"l":0.362,"h":0.402},{"k":"LB","x":7.5,"y":0.375,"l":0.355,"h":0.395},{"k":"LB","x":8,"y":0.368,"l":0.348,"h":0.388},{"k":"LB","x":8.5,"y":0.366,"l":0.346,"h":0.390},{"k":"LB","x":9,"y":0.363,"l":0.343,"h":0.383},{"k":"LB","x":9.5,"y":0.362,"l":0.342,"h":0.384},{"k":"LB","x":10,"y":0.361,"l":0.341,"h":0.383},
{"k":"PEB","x":2,"y":0.337,"l":0.337,"h":0.337},{"k":"PEB","x":2.5,"y":0.298,"l":0.286,"h":0.310},{"k":"PEB","x":3,"y":0.284,"l":0.269,"h":0.299},{"k":"PEB","x":3.5,"y":0.275,"l":0.260,"h":0.290},{"k":"PEB","x":4,"y":0.267,"l":0.252,"h":0.282},{"k":"PEB","x":4.5,"y":0.261,"l":0.246,"h":0.276},{"k":"PEB","x":5,"y":0.256,"l":0.241,"h":0.271},{"k":"PEB","x":5.5,"y":0.250,"l":0.235,"h":0.265},{"k":"PEB","x":6,"y":0.245,"l":0.230,"h":0.260},{"k":"PEB","x":6.5,"y":0.244,"l":0.219,"h":0.269},{"k":"PEB","x":7,"y":0.244,"l":0.229,"h":0.259},{"k":"PEB","x":7.5,"y":0.243,"l":0.228,"h":0.258},{"k":"PEB","x":8,"y":0.242,"l":0.227,"h":0.257},{"k":"PEB","x":8.5,"y":0.240,"l":0.225,"h":0.255},{"k":"PEB","x":9,"y":0.238,"l":0.213,"h":0.263},{"k":"PEB","x":9.5,"y":0.235,"l":0.218,"h":0.252},{"k":"PEB","x":10,"y":0.232,"l":0.217,"h":0.247}
],
"lv001": [
{"k":"MB","x":1,"y":2.05,"l":2.042,"h":2.058},{"k":"MB","x":2,"y":1.47,"l":1.462,"h":1.478},{"k":"MB","x":2.5,"y":1.345,"l":1.337,"h":1.353},{"k":"MB","x":3,"y":1.25,"l":1.242,"h":1.258},{"k":"MB","x":3.5,"y":1.185,"l":1.177,"h":1.193},{"k":"MB","x":4,"y":1.126,"l":1.118,"h":1.134},{"k":"MB","x":5,"y":1.04,"l":1.032,"h":1.048},{"k":"MB","x":6,"y":0.968,"l":0.960,"h":0.976},{"k":"MB","x":7,"y":0.915,"l":0.907,"h":0.923},{"k":"MB","x":8,"y":0.873,"l":0.865,"h":0.881},{"k":"MB","x":9,"y":0.84,"l":0.832,"h":0.848},{"k":"MB","x":10,"y":0.814,"l":0.806,"h":0.822},
{"k":"LB","x":2,"y":1.47,"l":1.47,"h":1.47},{"k":"LB","x":2.5,"y":1.415,"l":1.407,"h":1.423},{"k":"LB","x":3,"y":1.30,"l":1.292,"h":1.308},{"k":"LB","x":3.5,"y":1.24,"l":1.232,"h":1.248},{"k":"LB","x":4,"y":1.19,"l":1.182,"h":1.198},{"k":"LB","x":5,"y":1.09,"l":1.082,"h":1.098},{"k":"LB","x":6,"y":1.02,"l":1.012,"h":1.028},{"k":"LB","x":7,"y":0.96,"l":0.952,"h":0.968},{"k":"LB","x":8,"y":0.915,"l":0.907,"h":0.923},{"k":"LB","x":9,"y":0.885,"l":0.877,"h":0.893},{"k":"LB","x":10,"y":0.845,"l":0.837,"h":0.853},
{"k":"PEB","x":2,"y":1.47,"l":1.47,"h":1.47},{"k":"PEB","x":2.5,"y":1.345,"l":1.337,"h":1.353},{"k":"PEB","x":3,"y":1.25,"l":1.242,"h":1.258},{"k":"PEB","x":3.5,"y":1.185,"l":1.177,"h":1.193},{"k":"PEB","x":4,"y":1.126,"l":1.118,"h":1.134},{"k":"PEB","x":5,"y":1.035,"l":1.027,"h":1.043},{"k":"PEB","x":6,"y":0.965,"l":0.957,"h":0.973},{"k":"PEB","x":7,"y":0.905,"l":0.897,"h":0.913},{"k":"PEB","x":8,"y":0.86,"l":0.852,"h":0.868},{"k":"PEB","x":9,"y":0.82,"l":0.812,"h":0.828},{"k":"PEB","x":10,"y":0.785,"l":0.777,"h":0.793}
]
},
"concat": [
{"width":352,"height":198,"title":"α = 0.1","data":{"name":"at1"},
 "encoding":{"x":{"field":"x","type":"quantitative","scale":{"domain":[-0.5,10.5],"nice":false,"zero":false},"axis":{"values":[0,1,2,3,4,5,6,7,8,9,10],"labelOverlap":false,"labelExpr":"datum.value % 2 == 0 ? datum.label : ''","tickSize":{"condition":{"test":"datum.value % 2 == 1","value":2.5},"value":4},"gridOpacity":{"condition":{"test":"datum.value % 2 == 1","value":0},"value":0.8},"title":null}}},
 "layer":[
  {"mark":{"type":"area","opacity":0.3},"encoding":{"y":{"field":"l","type":"quantitative","scale":{"domain":[0.499,0.975],"nice":false,"zero":false},"axis":{"values":[0.5,0.6,0.7,0.8,0.9],"format":".1f","title":"acc/train"}},"y2":{"field":"h"},"fill":{"field":"k","type":"nominal","scale":{"domain":["MB","LB","PEB"],"range":["#2ca02c","#ff7f0e","#1f77b4"]},"legend":null}}},
  {"mark":{"type":"line","strokeWidth":1.8},"encoding":{"y":{"field":"y","type":"quantitative","scale":{"domain":[0.499,0.975],"nice":false,"zero":false},"axis":{"values":[0.5,0.6,0.7,0.8,0.9],"format":".1f","title":"acc/train"}},"stroke":{"field":"k","type":"nominal","scale":{"domain":["MB","LB","PEB"],"range":["#2ca02c","#ff7f0e","#1f77b4"]},"legend":{"orient":"bottom-left","title":null}},"strokeDash":{"field":"k","type":"nominal","scale":{"domain":["MB","LB","PEB"],"range":[[1,0],[6,2.5],[10,2.5,1.6,2.5]]},"legend":{"orient":"bottom-left","title":null}}}}
 ]},
{"width":352,"height":198,"title":"α = 0.05","data":{"name":"at05"},
 "encoding":{"x":{"field":"x","type":"quantitative","scale":{"domain":[-0.5,10.5],"nice":false,"zero":false},"axis":{"values":[0,1,2,3,4,5,6,7,8,9,10],"labelOverlap":false,"labelExpr":"datum.value % 2 == 0 ? datum.label : ''","tickSize":{"condition":{"test":"datum.value % 2 == 1","value":2.5},"value":4},"gridOpacity":{"condition":{"test":"datum.value % 2 == 1","value":0},"value":0.8},"title":null}}},
 "layer":[
  {"mark":{"type":"area","opacity":0.3},"encoding":{"y":{"field":"l","type":"quantitative","scale":{"domain":[0.499,0.975],"nice":false,"zero":false},"axis":{"values":[0.5,0.6,0.7,0.8,0.9],"labels":false,"title":null}},"y2":{"field":"h"},"fill":{"field":"k","type":"nominal","scale":{"domain":["MB","LB","PEB"],"range":["#2ca02c","#ff7f0e","#1f77b4"]},"legend":null}}},
  {"mark":{"type":"line","strokeWidth":1.8},"encoding":{"y":{"field":"y","type":"quantitative","scale":{"domain":[0.499,0.975],"nice":false,"zero":false},"axis":{"values":[0.5,0.6,0.7,0.8,0.9],"labels":false,"title":null}},"stroke":{"field":"k","type":"nominal","scale":{"domain":["MB","LB","PEB"],"range":["#2ca02c","#ff7f0e","#1f77b4"]},"legend":{"orient":"bottom-left","title":null}},"strokeDash":{"field":"k","type":"nominal","scale":{"domain":["MB","LB","PEB"],"range":[[1,0],[6,2.5],[10,2.5,1.6,2.5]]},"legend":{"orient":"bottom-left","title":null}}}}
 ]},
{"width":352,"height":198,"title":"α = 0.001","data":{"name":"at001"},
 "encoding":{"x":{"field":"x","type":"quantitative","scale":{"domain":[-0.5,10.5],"nice":false,"zero":false},"axis":{"values":[0,1,2,3,4,5,6,7,8,9,10],"labelOverlap":false,"labelExpr":"datum.value % 2 == 0 ? datum.label : ''","tickSize":{"condition":{"test":"datum.value % 2 == 1","value":2.5},"value":4},"gridOpacity":{"condition":{"test":"datum.value % 2 == 1","value":0},"value":0.8},"title":null}}},
 "layer":[
  {"mark":{"type":"area","opacity":0.3},"encoding":{"y":{"field":"l","type":"quantitative","scale":{"domain":[0.499,0.975],"nice":false,"zero":false},"axis":{"values":[0.5,0.6,0.7,0.8,0.9],"labels":false,"title":null}},"y2":{"field":"h"},"fill":{"field":"k","type":"nominal","scale":{"domain":["MB","LB","PEB"],"range":["#2ca02c","#ff7f0e","#1f77b4"]},"legend":null}}},
  {"mark":{"type":"line","strokeWidth":1.8},"encoding":{"y":{"field":"y","type":"quantitative","scale":{"domain":[0.499,0.975],"nice":false,"zero":false},"axis":{"values":[0.5,0.6,0.7,0.8,0.9],"labels":false,"title":null}},"stroke":{"field":"k","type":"nominal","scale":{"domain":["MB","LB","PEB"],"range":["#2ca02c","#ff7f0e","#1f77b4"]},"legend":{"orient":"top-right","title":null}},"strokeDash":{"field":"k","type":"nominal","scale":{"domain":["MB","LB","PEB"],"range":[[1,0],[6,2.5],[10,2.5,1.6,2.5]]},"legend":{"orient":"top-right","title":null}}}}
 ]},
{"width":352,"height":198,"data":{"name":"av1"},
 "encoding":{"x":{"field":"x","type":"quantitative","scale":{"domain":[-0.5,10.5],"nice":false,"zero":false},"axis":{"values":[0,1,2,3,4,5,6,7,8,9,10],"labelOverlap":false,"labelExpr":"datum.value % 2 == 0 ? datum.label : ''","tickSize":{"condition":{"test":"datum.value % 2 == 1","value":2.5},"value":4},"gridOpacity":{"condition":{"test":"datum.value % 2 == 1","value":0},"value":0.8},"title":null}}},
 "layer":[
  {"mark":{"type":"area","opacity":0.3},"encoding":{"y":{"field":"l","type":"quantitative","scale":{"domain":[0.498,0.955],"nice":false,"zero":false},"axis":{"values":[0.5,0.6,0.7,0.8,0.9],"format":".1f","title":"acc/val"}},"y2":{"field":"h"},"fill":{"field":"k","type":"nominal","scale":{"domain":["MB","LB","PEB"],"range":["#2ca02c","#ff7f0e","#1f77b4"]},"legend":null}}},
  {"mark":{"type":"line","strokeWidth":1.8},"encoding":{"y":{"field":"y","type":"quantitative","scale":{"domain":[0.498,0.955],"nice":false,"zero":false},"axis":{"values":[0.5,0.6,0.7,0.8,0.9],"format":".1f","title":"acc/val"}},"stroke":{"field":"k","type":"nominal","scale":{"domain":["MB","LB","PEB"],"range":["#2ca02c","#ff7f0e","#1f77b4"]},"legend":{"orient":"bottom-left","title":null}},"strokeDash":{"field":"k","type":"nominal","scale":{"domain":["MB","LB","PEB"],"range":[[1,0],[6,2.5],[10,2.5,1.6,2.5]]},"legend":{"orient":"bottom-left","title":null}}}}
 ]},
{"width":352,"height":198,"data":{"name":"av05"},
 "encoding":{"x":{"field":"x","type":"quantitative","scale":{"domain":[-0.5,10.5],"nice":false,"zero":false},"axis":{"values":[0,1,2,3,4,5,6,7,8,9,10],"labelOverlap":false,"labelExpr":"datum.value % 2 == 0 ? datum.label : ''","tickSize":{"condition":{"test":"datum.value % 2 == 1","value":2.5},"value":4},"gridOpacity":{"condition":{"test":"datum.value % 2 == 1","value":0},"value":0.8},"title":null}}},
 "layer":[
  {"mark":{"type":"area","opacity":0.3},"encoding":{"y":{"field":"l","type":"quantitative","scale":{"domain":[0.498,0.955],"nice":false,"zero":false},"axis":{"values":[0.5,0.6,0.7,0.8,0.9],"labels":false,"title":null}},"y2":{"field":"h"},"fill":{"field":"k","type":"nominal","scale":{"domain":["MB","LB","PEB"],"range":["#2ca02c","#ff7f0e","#1f77b4"]},"legend":null}}},
  {"mark":{"type":"line","strokeWidth":1.8},"encoding":{"y":{"field":"y","type":"quantitative","scale":{"domain":[0.498,0.955],"nice":false,"zero":false},"axis":{"values":[0.5,0.6,0.7,0.8,0.9],"labels":false,"title":null}},"stroke":{"field":"k","type":"nominal","scale":{"domain":["MB","LB","PEB"],"range":["#2ca02c","#ff7f0e","#1f77b4"]},"legend":{"orient":"bottom-left","title":null}},"strokeDash":{"field":"k","type":"nominal","scale":{"domain":["MB","LB","PEB"],"range":[[1,0],[6,2.5],[10,2.5,1.6,2.5]]},"legend":{"orient":"bottom-left","title":null}}}}
 ]},
{"width":352,"height":198,"data":{"name":"av001"},
 "encoding":{"x":{"field":"x","type":"quantitative","scale":{"domain":[-0.5,10.5],"nice":false,"zero":false},"axis":{"values":[0,1,2,3,4,5,6,7,8,9,10],"labelOverlap":false,"labelExpr":"datum.value % 2 == 0 ? datum.label : ''","tickSize":{"condition":{"test":"datum.value % 2 == 1","value":2.5},"value":4},"gridOpacity":{"condition":{"test":"datum.value % 2 == 1","value":0},"value":0.8},"title":null}}},
 "layer":[
  {"mark":{"type":"area","opacity":0.3},"encoding":{"y":{"field":"l","type":"quantitative","scale":{"domain":[0.498,0.955],"nice":false,"zero":false},"axis":{"values":[0.5,0.6,0.7,0.8,0.9],"labels":false,"title":null}},"y2":{"field":"h"},"fill":{"field":"k","type":"nominal","scale":{"domain":["MB","LB","PEB"],"range":["#2ca02c","#ff7f0e","#1f77b4"]},"legend":null}}},
  {"mark":{"type":"line","strokeWidth":1.8},"encoding":{"y":{"field":"y","type":"quantitative","scale":{"domain":[0.498,0.955],"nice":false,"zero":false},"axis":{"values":[0.5,0.6,0.7,0.8,0.9],"labels":false,"title":null}},"stroke":{"field":"k","type":"nominal","scale":{"domain":["MB","LB","PEB"],"range":["#2ca02c","#ff7f0e","#1f77b4"]},"legend":{"orient":"top-right","title":null}},"strokeDash":{"field":"k","type":"nominal","scale":{"domain":["MB","LB","PEB"],"range":[[1,0],[6,2.5],[10,2.5,1.6,2.5]]},"legend":{"orient":"top-right","title":null}}}}
 ]},
{"width":352,"height":198,"data":{"name":"lt1"},
 "encoding":{"x":{"field":"x","type":"quantitative","scale":{"domain":[-0.5,10.5],"nice":false,"zero":false},"axis":{"values":[0,1,2,3,4,5,6,7,8,9,10],"labelOverlap":false,"labelExpr":"datum.value % 2 == 0 ? datum.label : ''","tickSize":{"condition":{"test":"datum.value % 2 == 1","value":2.5},"value":4},"gridOpacity":{"condition":{"test":"datum.value % 2 == 1","value":0},"value":0.8},"title":null}}},
 "layer":[
  {"mark":{"type":"area","opacity":0.3},"encoding":{"y":{"field":"l","type":"quantitative","scale":{"domain":[-0.006,2.147],"nice":false,"zero":false},"axis":{"values":[0,0.5,1,1.5,2],"format":".1f","title":"loss/train"}},"y2":{"field":"h"},"fill":{"field":"k","type":"nominal","scale":{"domain":["MB","LB","PEB"],"range":["#2ca02c","#ff7f0e","#1f77b4"]},"legend":null}}},
  {"mark":{"type":"line","strokeWidth":1.8},"encoding":{"y":{"field":"y","type":"quantitative","scale":{"domain":[-0.006,2.147],"nice":false,"zero":false},"axis":{"values":[0,0.5,1,1.5,2],"format":".1f","title":"loss/train"}},"stroke":{"field":"k","type":"nominal","scale":{"domain":["MB","LB","PEB"],"range":["#2ca02c","#ff7f0e","#1f77b4"]},"legend":{"orient":"top-right","title":null}},"strokeDash":{"field":"k","type":"nominal","scale":{"domain":["MB","LB","PEB"],"range":[[1,0],[6,2.5],[10,2.5,1.6,2.5]]},"legend":{"orient":"top-right","title":null}}}}
 ]},
{"width":352,"height":198,"data":{"name":"lt05"},
 "encoding":{"x":{"field":"x","type":"quantitative","scale":{"domain":[-0.5,10.5],"nice":false,"zero":false},"axis":{"values":[0,1,2,3,4,5,6,7,8,9,10],"labelOverlap":false,"labelExpr":"datum.value % 2 == 0 ? datum.label : ''","tickSize":{"condition":{"test":"datum.value % 2 == 1","value":2.5},"value":4},"gridOpacity":{"condition":{"test":"datum.value % 2 == 1","value":0},"value":0.8},"title":null}}},
 "layer":[
  {"mark":{"type":"area","opacity":0.3},"encoding":{"y":{"field":"l","type":"quantitative","scale":{"domain":[-0.006,2.147],"nice":false,"zero":false},"axis":{"values":[0,0.5,1,1.5,2],"labels":false,"title":null}},"y2":{"field":"h"},"fill":{"field":"k","type":"nominal","scale":{"domain":["MB","LB","PEB"],"range":["#2ca02c","#ff7f0e","#1f77b4"]},"legend":null}}},
  {"mark":{"type":"line","strokeWidth":1.8},"encoding":{"y":{"field":"y","type":"quantitative","scale":{"domain":[-0.006,2.147],"nice":false,"zero":false},"axis":{"values":[0,0.5,1,1.5,2],"labels":false,"title":null}},"stroke":{"field":"k","type":"nominal","scale":{"domain":["MB","LB","PEB"],"range":["#2ca02c","#ff7f0e","#1f77b4"]},"legend":{"orient":"top-right","title":null}},"strokeDash":{"field":"k","type":"nominal","scale":{"domain":["MB","LB","PEB"],"range":[[1,0],[6,2.5],[10,2.5,1.6,2.5]]},"legend":{"orient":"top-right","title":null}}}}
 ]},
{"width":352,"height":198,"data":{"name":"lt001"},
 "encoding":{"x":{"field":"x","type":"quantitative","scale":{"domain":[-0.5,10.5],"nice":false,"zero":false},"axis":{"values":[0,1,2,3,4,5,6,7,8,9,10],"labelOverlap":false,"labelExpr":"datum.value % 2 == 0 ? datum.label : ''","tickSize":{"condition":{"test":"datum.value % 2 == 1","value":2.5},"value":4},"gridOpacity":{"condition":{"test":"datum.value % 2 == 1","value":0},"value":0.8},"title":null}}},
 "layer":[
  {"mark":{"type":"area","opacity":0.3},"encoding":{"y":{"field":"l","type":"quantitative","scale":{"domain":[-0.006,2.147],"nice":false,"zero":false},"axis":{"values":[0,0.5,1,1.5,2],"labels":false,"title":null}},"y2":{"field":"h"},"fill":{"field":"k","type":"nominal","scale":{"domain":["MB","LB","PEB"],"range":["#2ca02c","#ff7f0e","#1f77b4"]},"legend":null}}},
  {"mark":{"type":"line","strokeWidth":1.8},"encoding":{"y":{"field":"y","type":"quantitative","scale":{"domain":[-0.006,2.147],"nice":false,"zero":false},"axis":{"values":[0,0.5,1,1.5,2],"labels":false,"title":null}},"stroke":{"field":"k","type":"nominal","scale":{"domain":["MB","LB","PEB"],"range":["#2ca02c","#ff7f0e","#1f77b4"]},"legend":{"orient":"top-right","title":null}},"strokeDash":{"field":"k","type":"nominal","scale":{"domain":["MB","LB","PEB"],"range":[[1,0],[6,2.5],[10,2.5,1.6,2.5]]},"legend":{"orient":"top-right","title":null}}}}
 ]},
{"width":352,"height":198,"data":{"name":"lv1"},
 "encoding":{"x":{"field":"x","type":"quantitative","scale":{"domain":[-0.5,10.5],"nice":false,"zero":false},"axis":{"values":[0,1,2,3,4,5,6,7,8,9,10],"labelOverlap":false,"labelExpr":"datum.value % 2 == 0 ? datum.label : ''","tickSize":{"condition":{"test":"datum.value % 2 == 1","value":2.5},"value":4},"gridOpacity":{"condition":{"test":"datum.value % 2 == 1","value":0},"value":0.8},"title":"Epoch number","titlePadding":9}}},
 "layer":[
  {"mark":{"type":"area","opacity":0.3},"encoding":{"y":{"field":"l","type":"quantitative","scale":{"domain":[0.05,2.14],"nice":false,"zero":false},"axis":{"values":[0.5,1,1.5,2],"format":".1f","title":"loss/val"}},"y2":{"field":"h"},"fill":{"field":"k","type":"nominal","scale":{"domain":["MB","LB","PEB"],"range":["#2ca02c","#ff7f0e","#1f77b4"]},"legend":null}}},
  {"mark":{"type":"line","strokeWidth":1.8},"encoding":{"y":{"field":"y","type":"quantitative","scale":{"domain":[0.05,2.14],"nice":false,"zero":false},"axis":{"values":[0.5,1,1.5,2],"format":".1f","title":"loss/val"}},"stroke":{"field":"k","type":"nominal","scale":{"domain":["MB","LB","PEB"],"range":["#2ca02c","#ff7f0e","#1f77b4"]},"legend":{"orient":"top-right","title":null}},"strokeDash":{"field":"k","type":"nominal","scale":{"domain":["MB","LB","PEB"],"range":[[1,0],[6,2.5],[10,2.5,1.6,2.5]]},"legend":{"orient":"top-right","title":null}}}}
 ]},
{"width":352,"height":198,"data":{"name":"lv05"},
 "encoding":{"x":{"field":"x","type":"quantitative","scale":{"domain":[-0.5,10.5],"nice":false,"zero":false},"axis":{"values":[0,1,2,3,4,5,6,7,8,9,10],"labelOverlap":false,"labelExpr":"datum.value % 2 == 0 ? datum.label : ''","tickSize":{"condition":{"test":"datum.value % 2 == 1","value":2.5},"value":4},"gridOpacity":{"condition":{"test":"datum.value % 2 == 1","value":0},"value":0.8},"title":"Epoch number","titlePadding":9}}},
 "layer":[
  {"mark":{"type":"area","opacity":0.3},"encoding":{"y":{"field":"l","type":"quantitative","scale":{"domain":[0.05,2.14],"nice":false,"zero":false},"axis":{"values":[0.5,1,1.5,2],"labels":false,"title":null}},"y2":{"field":"h"},"fill":{"field":"k","type":"nominal","scale":{"domain":["MB","LB","PEB"],"range":["#2ca02c","#ff7f0e","#1f77b4"]},"legend":null}}},
  {"mark":{"type":"line","strokeWidth":1.8},"encoding":{"y":{"field":"y","type":"quantitative","scale":{"domain":[0.05,2.14],"nice":false,"zero":false},"axis":{"values":[0.5,1,1.5,2],"labels":false,"title":null}},"stroke":{"field":"k","type":"nominal","scale":{"domain":["MB","LB","PEB"],"range":["#2ca02c","#ff7f0e","#1f77b4"]},"legend":{"orient":"top-right","title":null}},"strokeDash":{"field":"k","type":"nominal","scale":{"domain":["MB","LB","PEB"],"range":[[1,0],[6,2.5],[10,2.5,1.6,2.5]]},"legend":{"orient":"top-right","title":null}}}}
 ]},
{"width":352,"height":198,"data":{"name":"lv001"},
 "encoding":{"x":{"field":"x","type":"quantitative","scale":{"domain":[-0.5,10.5],"nice":false,"zero":false},"axis":{"values":[0,1,2,3,4,5,6,7,8,9,10],"labelOverlap":false,"labelExpr":"datum.value % 2 == 0 ? datum.label : ''","tickSize":{"condition":{"test":"datum.value % 2 == 1","value":2.5},"value":4},"gridOpacity":{"condition":{"test":"datum.value % 2 == 1","value":0},"value":0.8},"title":"Epoch number","titlePadding":9}}},
 "layer":[
  {"mark":{"type":"area","opacity":0.3},"encoding":{"y":{"field":"l","type":"quantitative","scale":{"domain":[0.05,2.14],"nice":false,"zero":false},"axis":{"values":[0.5,1,1.5,2],"labels":false,"title":null}},"y2":{"field":"h"},"fill":{"field":"k","type":"nominal","scale":{"domain":["MB","LB","PEB"],"range":["#2ca02c","#ff7f0e","#1f77b4"]},"legend":null}}},
  {"mark":{"type":"line","strokeWidth":1.8},"encoding":{"y":{"field":"y","type":"quantitative","scale":{"domain":[0.05,2.14],"nice":false,"zero":false},"axis":{"values":[0.5,1,1.5,2],"labels":false,"title":null}},"stroke":{"field":"k","type":"nominal","scale":{"domain":["MB","LB","PEB"],"range":["#2ca02c","#ff7f0e","#1f77b4"]},"legend":{"orient":"top-right","title":null}},"strokeDash":{"field":"k","type":"nominal","scale":{"domain":["MB","LB","PEB"],"range":[[1,0],[6,2.5],[10,2.5,1.6,2.5]]},"legend":{"orient":"top-right","title":null}}}}
 ]}
]
}
